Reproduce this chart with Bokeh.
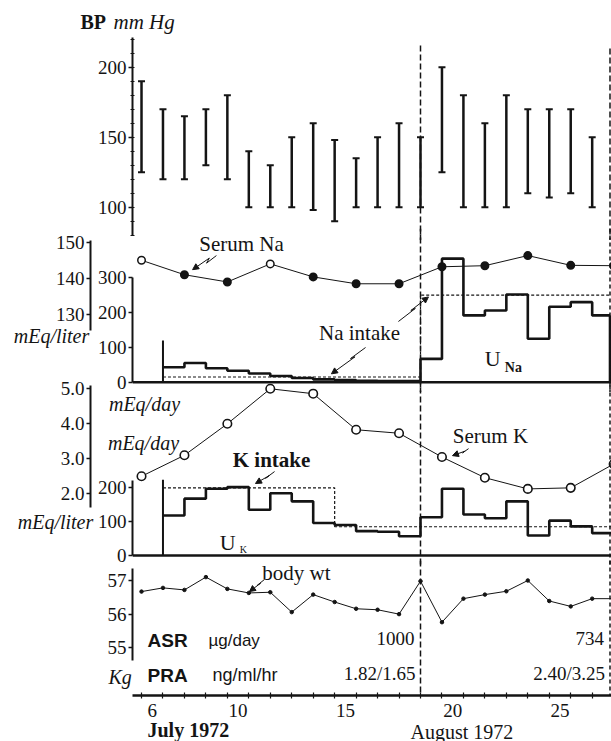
from bokeh.plotting import figure
from bokeh.layouts import column, row
from bokeh.models import (Range1d, LinearAxis, FixedTicker, Label, Span, Arrow,
                          NormalHead, ColumnDataSource, PrintfTickFormatter)
from bokeh.embed import file_html
from bokeh.resources import INLINE

SERIF = "Liberation Serif"
SANS = "Liberation Sans"
INK = "#141414"

# ---------------- data ----------------
bp_days = list(range(6, 28))
bp_systolic = [190, 170, 165, 170, 180, 140, 130, 150, 160, 148, 135,
               150, 160, 150, 200, 180, 160, 180, 170, 170, 170, 150]
bp_diastolic = [125, 120, 120, 130, 120, 100, 100, 100, 98, 90, 100,
                100, 100, 100, 125, 100, 100, 100, 110, 107, 110, 100]

serum_days = [6, 8, 10, 12, 14, 16, 18, 20, 22, 24, 26, 28]
serum_na = [145, 141, 139, 144, 140.4, 138.5, 138.5, 143.2, 143.5, 146.3, 143.6, 143.5]
serum_na_open = [True, False, False, True, False, False, False, False, False, False, False, False]
serum_k = [2.5, 3.1, 4.0, 5.0, 4.86, 3.83, 3.73, 3.05, 2.46, 2.14, 2.17, 2.85]

urine_days = list(range(7, 28))
u_na = [43, 55, 40, 33, 25, 18, 12, 8, 6, 4, 3, 3,
        67, 355, 192, 206, 252, 125, 217, 230, 192]
u_k = [118, 168, 197, 202, 135, 184, 160, 96, 90, 72, 70, 57,
       113, 197, 121, 110, 160, 59, 103, 86, 66]
u_na_first = 120
u_k_first = 224

na_intake_days = [7, 19, 28]
na_intake = [15, 250, 250]
k_intake_days = [7, 15, 28]
k_intake = [200, 85, 85]

wt_days = list(range(6, 29))
body_wt = [56.67, 56.78, 56.72, 57.1, 56.75, 56.63, 56.65, 56.06, 56.58, 56.36, 56.16,
           56.13, 56.0, 56.98, 55.76, 56.46, 56.58, 56.68, 57.0, 56.39, 56.23, 56.46, 56.46]

period_marks = [19, 27.83]
asr_values = ["1000", "734"]
pra_values = ["1.82/1.65", "2.40/3.25"]
x_tick_days = [6, 10, 15, 20, 25]
month_labels = ["July 1972", "August 1972"]

X_LO, X_HI = 5.58, 27.9


def base_fig(h, y_lo, y_hi, bottom=0, mt=0, xaxis=False):
    p = figure(width=611, height=h, x_range=Range1d(X_LO, X_HI), y_range=Range1d(y_lo, y_hi),
               output_backend="svg", toolbar_location=None,
               x_axis_location="below" if xaxis else None,
               min_border_left=132, min_border_right=0, min_border_top=0,
               min_border_bottom=bottom,
               background_fill_color=None, border_fill_color=None, outline_line_color=None)
    p.grid.visible = False
    if mt:
        p.margin = (mt, 0, 0, 0)
    return p


def style_axis(ax, ticks, bounds, minor=(), fmt=None, standoff=2):
    ax.ticker = FixedTicker(ticks=list(ticks), minor_ticks=list(minor))
    ax.bounds = bounds
    ax.axis_line_color = INK
    ax.axis_line_width = 2
    ax.major_tick_line_color = INK
    ax.major_tick_line_width = 1.5
    ax.major_tick_in = 0
    ax.major_tick_out = 4
    ax.minor_tick_line_color = INK if minor else None
    ax.minor_tick_line_width = 1
    ax.minor_tick_in = 2
    ax.minor_tick_out = 2
    ax.major_label_text_font = SERIF
    ax.major_label_text_font_size = "19px"
    ax.major_label_text_color = INK
    ax.major_label_standoff = standoff
    if fmt is not None:
        ax.formatter = fmt


def spacer_label(ax):
    ax.axis_label = " "
    ax.axis_label_text_font_size = "1px"
    ax.axis_label_standoff = 0


def label(p, x, y, text, size="20px", font=SERIF, style="normal", align="center",
          rng="default", xoff=0):
    p.add_layout(Label(x=x, y=y, text=text, text_font=font, text_font_size=size,
                       text_font_style=style, text_align=align, text_baseline="middle",
                       text_color=INK, y_range_name=rng, x_offset=xoff))


def squiggle(p, pts, rng="default"):
    xs = [a for a, b in pts[:-1]]
    ys = [b for a, b in pts[:-1]]
    p.line(xs, ys, line_color=INK, line_width=1, y_range_name=rng)
    p.add_layout(Arrow(end=NormalHead(size=6, fill_color=INK, line_color=INK, line_width=1),
                       x_start=pts[-2][0], y_start=pts[-2][1], x_end=pts[-1][0], y_end=pts[-1][1],
                       line_color=INK, line_width=1, y_range_name=rng))


def period_spans(p):
    p.add_layout(Span(location=period_marks[0], dimension="height", line_color=INK,
                      line_width=1.5, line_dash="6 3"))
    p.add_layout(Span(location=period_marks[1], dimension="height", line_color=INK,
                      line_width=1.5, line_dash="4 3"))


# ---------------- panel 1: blood pressure ----------------
p1 = base_fig(240, 76.21, 247.64)
style_axis(p1.yaxis[0], [100, 150, 200], (79.5, 221), minor=range(80, 230, 10))
p1.segment(x0=period_marks, y0=[215.5, 213.4], x1=period_marks, y1=[70, 70],
           line_color=INK, line_width=1.5, line_dash="6 3")
p1.segment(x0=bp_days, y0=bp_diastolic, x1=bp_days, y1=bp_systolic,
           line_color=INK, line_width=2.5)
p1.scatter(bp_days, bp_systolic, marker="dash", size=7, line_color=INK, line_width=2)
p1.scatter(bp_days, bp_diastolic, marker="dash", size=7, line_color=INK, line_width=2)

# ---------------- panel 2: sodium ----------------
p2 = base_fig(164, -29.6, 441.7, mt=-12)
p2.extra_y_ranges = {"na": Range1d(108.42, 153.79)}
style_axis(p2.yaxis[0], [0, 100, 200, 300], (0, 302))
spacer_label(p2.yaxis[0])
ax_na = LinearAxis(y_range_name="na")
p2.add_layout(ax_na, "left")
style_axis(ax_na, [130, 140, 150], (125.6, 150.5))
period_spans(p2)
p2.add_layout(Span(location=0, dimension="width", line_color=INK, line_width=2.5))
p2.step(na_intake_days, na_intake, mode="after", line_color=INK, line_width=1.2,
        line_dash="3 2")
p2.segment(x0=[urine_days[0]], y0=[0], x1=[urine_days[0]], y1=[u_na_first],
           line_color=INK, line_width=2)
p2.step(urine_days + [period_marks[1]], u_na + [u_na[-1]], mode="after",
        line_color=INK, line_width=2.6)
p2.segment(x0=[period_marks[1]], y0=[u_na[-1]], x1=[period_marks[1]], y1=[0],
           line_color=INK, line_width=2.6)
p2.line(serum_days, serum_na, y_range_name="na", line_color=INK, line_width=1)
na_src = ColumnDataSource(dict(x=serum_days, y=serum_na,
                               fill=["white" if o else INK for o in serum_na_open]))
p2.scatter("x", "y", source=na_src, y_range_name="na", size=7.5, fill_color="fill",
           line_color=INK, line_width=1.5)
label(p2, 10.66, 149.6, "Serum Na", size="21px", rng="na")
label(p2, 16.16, 140, "Na intake", size="21px")
label(p2, 22.36, 67.8, "U", size="22px")
label(p2, 23.33, 42.2, "Na", size="14px", style="bold")
squiggle(p2, [(9.49, 146.3), (9.03, 144.2), (9.16, 145.6), (8.38, 142.4)], rng="na")
squiggle(p2, [(17.97, 174.4), (18.76, 212), (18.55, 206), (19.37, 245)])
squiggle(p2, [(16.44, 99.7), (15.74, 68), (15.95, 73), (14.85, 24)])

# ---------------- panel 3: potassium ----------------
p3 = base_fig(188, -32.5, 522.9, mt=-14)
p3.extra_y_ranges = {"k": Range1d(-0.077, 5.294)}
style_axis(p3.yaxis[0], [0, 100, 200], (0, 222))
spacer_label(p3.yaxis[0])
ax_k = LinearAxis(y_range_name="k")
p3.add_layout(ax_k, "left")
style_axis(ax_k, [2, 3, 4, 5], (1.6, 5.1), fmt=PrintfTickFormatter(format="%.1f"))
period_spans(p3)
p3.add_layout(Span(location=0, dimension="width", line_color=INK, line_width=2.5))
p3.step(k_intake_days, k_intake, mode="after", line_color=INK, line_width=1.2,
        line_dash="3 2")
p3.segment(x0=[urine_days[0]], y0=[0], x1=[urine_days[0]], y1=[u_k_first],
           line_color=INK, line_width=2)
p3.step(urine_days + [28], u_k + [u_k[-1]], mode="after", line_color=INK, line_width=2.6)
p3.line(serum_days, serum_k, y_range_name="k", line_color=INK, line_width=1)
p3.scatter(serum_days, serum_k, y_range_name="k", size=8.5, fill_color="white",
           line_color=INK, line_width=1.6)
label(p3, 12.06, 283.6, "K intake", size="21px", style="bold")
label(p3, 22.26, 354.5, "Serum K", size="21px")
label(p3, 10.01, 38.4, "U", size="22px")
label(p3, 10.75, 18, "K", size="10px")
squiggle(p3, [(12.2, 248), (11.78, 228), (11.95, 236), (11.31, 212.7)])
squiggle(p3, [(21.24, 3.29), (20.96, 3.17), (21.08, 3.22), (20.49, 3.09)], rng="k")

# ---------------- panel 4: body weight, hormones, time axis ----------------
p4 = base_fig(181, 53.582, 57.594, bottom=46, mt=-6, xaxis=True)
style_axis(p4.yaxis[0], [55, 56, 57], (54.62, 57.36))
xa = p4.xaxis[0]
xa.ticker = FixedTicker(ticks=[d + 0.5 for d in x_tick_days], minor_ticks=list(range(6, 28)))
xa.major_label_overrides = {d + 0.5: str(d) for d in x_tick_days}
xa.axis_line_color = INK
xa.axis_line_width = 2.5
xa.major_tick_in = 0
xa.major_tick_out = 0
xa.minor_tick_line_color = INK
xa.minor_tick_line_width = 1.2
xa.minor_tick_in = 3
xa.minor_tick_out = 3
xa.major_label_text_font = SERIF
xa.major_label_text_font_size = "19px"
xa.major_label_text_color = INK
xa.major_label_standoff = 5
period_spans(p4)
p4.line(wt_days, body_wt, line_color=INK, line_width=1)
p4.scatter(wt_days, body_wt, size=3.5, fill_color=INK, line_color=INK)
label(p4, 13.22, 57.21, "body wt", size="21px")
squiggle(p4, [(11.73, 57.03), (11.4, 56.86), (11.55, 56.92), (11.03, 56.67)])
label(p4, 6.28, 55.22, "ASR", size="19px", font=SANS, style="bold", align="left")
label(p4, 9.12, 55.22, "\u00b5g/day", size="17px", font=SANS, align="left")
label(p4, 6.28, 54.18, "PRA", size="19px", font=SANS, style="bold", align="left")
label(p4, 9.31, 54.18, "ng/ml/hr", size="18px", font=SANS, align="left")
for m, a, r in zip(period_marks, asr_values, pra_values):
    label(p4, m, 55.28, a, size="19px", align="right", xoff=-6)
    label(p4, m, 54.24, r, size="19px", align="right", xoff=-5)

panels = column(p1, p2, p3, p4, spacing=0)
panels.margin = (0, 0, 0, -611)

# ---------------- full-page caption layer (behind the panels) ----------------
p5 = figure(width=611, height=741, x_range=Range1d(0, 611), y_range=Range1d(741, 0),
            output_backend="svg", toolbar_location=None, x_axis_location=None,
            y_axis_location=None, min_border=0, min_border_left=0, min_border_right=0,
            min_border_top=0, min_border_bottom=0, background_fill_color=None,
            border_fill_color=None, outline_line_color=None)
p5.grid.visible = False
label(p5, 80, 21, "BP", size="20px", style="bold", align="left")
label(p5, 113, 21, "mm Hg", size="21px", style="italic", align="left")
label(p5, 51, 335, "mEq/liter", style="italic")
label(p5, 144, 403, "mEq/day", style="italic")
label(p5, 143, 442, "mEq/day", style="italic")
label(p5, 55, 521, "mEq/liter", style="italic")
label(p5, 108, 676, "Kg", style="italic", align="left")
label(p5, 147, 729, month_labels[0], size="20px", style="bold", align="left")
label(p5, 410, 731, month_labels[1], size="20px", align="left")

layout = row(p5, panels, spacing=0)
open("out.html", "w").write(file_html(layout, INLINE))
